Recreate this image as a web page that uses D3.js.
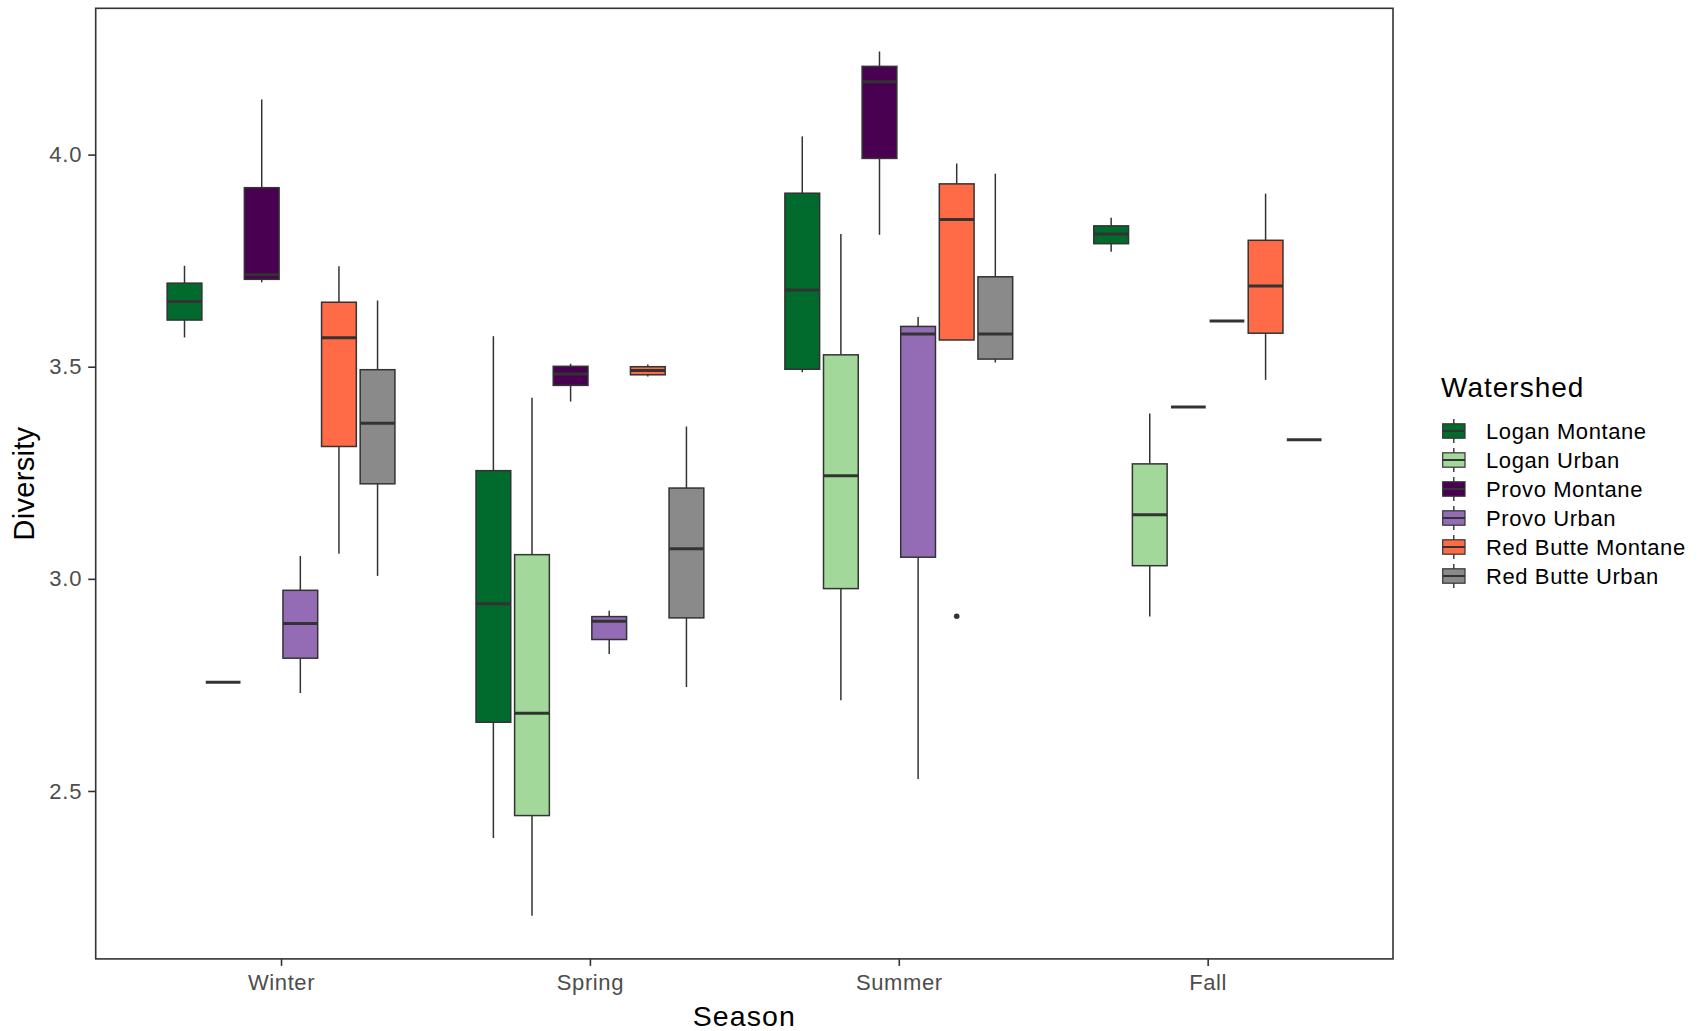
<!DOCTYPE html>
<html>
<head>
<meta charset="utf-8">
<script src="https://cdn.jsdelivr.net/npm/d3@7"></script>
<style>
  html, body { margin: 0; padding: 0; background: #ffffff; }
  svg { display: block; font-family: "Liberation Sans", Arial, sans-serif; }
</style>
</head>
<body>
<svg id="chart" width="1704" height="1031"></svg>
<script>
// Seasons on the x axis, watersheds as dodged boxes inside each season
const seasons = ["Winter", "Spring", "Summer", "Fall"];
const watersheds = ["Logan Montane", "Logan Urban", "Provo Montane", "Provo Urban", "Red Butte Montane", "Red Butte Urban"];
const fills = ["#006b2c", "#a2d99b", "#4a0050", "#936cb5", "#ff6a47", "#8a8a8a"];
const yTicks = [2.5, 3.0, 3.5, 4.0];

// Box statistics per watershed, one entry per season: [lower whisker, Q1, median, Q3, upper whisker]
const loganMontane = [
  [3.569, 3.610, 3.654, 3.697, 3.738],
  [2.389, 2.662, 2.941, 3.255, 3.572],
  [3.487, 3.494, 3.681, 3.909, 4.043],
  [3.771, 3.790, 3.813, 3.832, 3.851]
];
const loganUrban = [
  [2.756, 2.756, 2.756, 2.756, 2.756],
  [2.206, 2.442, 2.683, 3.057, 3.427],
  [2.714, 2.977, 3.243, 3.528, 3.813],
  [2.911, 3.031, 3.151, 3.271, 3.390]
];
const provoMontane = [
  [3.699, 3.706, 3.717, 3.922, 4.130],
  [3.418, 3.456, 3.483, 3.501, 3.507],
  [3.811, 3.991, 4.172, 4.208, 4.243],
  [3.405, 3.405, 3.405, 3.405, 3.405]
];
const provoUrban = [
  [2.731, 2.813, 2.895, 2.973, 3.054],
  [2.823, 2.857, 2.900, 2.911, 2.925],
  [2.528, 3.051, 3.577, 3.595, 3.617],
  [3.608, 3.608, 3.608, 3.608, 3.608]
];
const redButteMontane = [
  [3.059, 3.312, 3.568, 3.652, 3.737],
  [3.477, 3.481, 3.491, 3.500, 3.505],
  [3.563, 3.563, 3.847, 3.931, 3.979],
  [3.469, 3.579, 3.690, 3.798, 3.908]
];
const redButteUrban = [
  [3.007, 3.224, 3.367, 3.493, 3.656],
  [2.745, 2.908, 3.071, 3.214, 3.359],
  [3.510, 3.518, 3.577, 3.712, 3.955],
  [3.328, 3.328, 3.328, 3.328, 3.328]
];
// Points beyond the whiskers: [season, watershed, value]
const outliers = [["Summer", "Red Butte Montane", 2.912]];

const statsByWatershed = [loganMontane, loganUrban, provoMontane, provoUrban, redButteMontane, redButteUrban];

const boxes = [];
watersheds.forEach((w, wi) => {
  seasons.forEach((s, si) => {
    const [lo, q1, med, q3, hi] = statsByWatershed[wi][si];
    boxes.push({ season: s, watershed: w, lo, q1, med, q3, hi });
  });
});

const svg = d3.select("#chart");
const panel = { left: 95.7, top: 8.3, right: 1393, bottom: 958.9 };
const ink = "#333333";
const font = "'Liberation Sans', Arial, sans-serif";

// y domain: data range expanded by 5% on each side
const allVals = boxes.flatMap(b => [b.lo, b.hi]).concat(outliers.map(o => o[2]));
const vMin = d3.min(allVals), vMax = d3.max(allVals);
const pad = (vMax - vMin) * 0.05;
const y = d3.scaleLinear().domain([vMin - pad, vMax + pad]).range([panel.bottom, panel.top]);

const x = d3.scalePoint().domain(seasons).range([panel.left, panel.right]).padding(0.6);
const step = x.step();
const xInner = d3.scaleBand().domain(watersheds)
  .range([-0.375 * step, 0.375 * step]).paddingInner(0.1).paddingOuter(0.05);
const color = d3.scaleOrdinal().domain(watersheds).range(fills);

const plot = svg.append("g");

// boxes: whiskers, box, median
const g = plot.selectAll("g.box").data(boxes).join("g").attr("class", "box")
  .attr("transform", d => `translate(${x(d.season) + xInner(d.watershed)},0)`);
const bw = xInner.bandwidth();

g.append("line").attr("x1", bw / 2).attr("x2", bw / 2)
  .attr("y1", d => y(d.hi)).attr("y2", d => y(d.q3))
  .attr("stroke", ink).attr("stroke-width", 1.5);
g.append("line").attr("x1", bw / 2).attr("x2", bw / 2)
  .attr("y1", d => y(d.q1)).attr("y2", d => y(d.lo))
  .attr("stroke", ink).attr("stroke-width", 1.5);
g.append("rect").attr("x", 0).attr("width", bw)
  .attr("y", d => y(d.q3)).attr("height", d => Math.max(0, y(d.q1) - y(d.q3)))
  .attr("fill", d => color(d.watershed))
  .attr("stroke", ink).attr("stroke-width", 1.5);
g.append("line").attr("x1", 0).attr("x2", bw)
  .attr("y1", d => y(d.med)).attr("y2", d => y(d.med))
  .attr("stroke", ink).attr("stroke-width", 3);

plot.selectAll("circle.out").data(outliers).join("circle").attr("class", "out")
  .attr("cx", d => x(d[0]) + xInner(d[1]) + bw / 2)
  .attr("cy", d => y(d[2]))
  .attr("r", 2.8).attr("fill", ink);

// panel border
svg.append("rect")
  .attr("x", panel.left).attr("y", panel.top)
  .attr("width", panel.right - panel.left).attr("height", panel.bottom - panel.top)
  .attr("fill", "none").attr("stroke", ink).attr("stroke-width", 1.6);

// axes
const yAxis = svg.append("g").attr("transform", `translate(${panel.left},0)`)
  .call(d3.axisLeft(y).tickValues(yTicks).tickFormat(d3.format(".1f")).tickSize(7.5).tickPadding(6));
const xAxis = svg.append("g").attr("transform", `translate(0,${panel.bottom})`)
  .call(d3.axisBottom(x).tickSize(7).tickPadding(6));
[yAxis, xAxis].forEach(a => {
  a.select(".domain").remove();
  a.selectAll(".tick line").attr("stroke", ink).attr("stroke-width", 1.6);
  a.selectAll(".tick text").attr("fill", "#4d4d4d")
    .style("font-size", "22px").style("font-family", font);
});
yAxis.selectAll(".tick text").style("letter-spacing", "0.8px").attr("x", -13.5);
xAxis.selectAll(".tick text").style("letter-spacing", "0.6px").attr("y", 31).attr("dy", 0);

// axis titles
svg.append("text").attr("x", (panel.left + panel.right) / 2).attr("y", 1026)
  .attr("text-anchor", "middle").style("font-size", "28.5px").style("letter-spacing", "1.1px")
  .attr("fill", "#000").text("Season");
svg.append("text").attr("transform", `translate(34,${(panel.top + panel.bottom) / 2}) rotate(-90)`)
  .attr("text-anchor", "middle").style("font-size", "29px").style("letter-spacing", "0.3px")
  .attr("fill", "#000").text("Diversity");

// legend
const legend = svg.append("g").attr("transform", "translate(1441,0)");
legend.append("text").attr("x", 0).attr("y", 396.7).style("font-size", "28px")
  .style("letter-spacing", "1px").attr("fill", "#000").text("Watershed");
const items = legend.selectAll("g.item").data(watersheds).join("g").attr("class", "item")
  .attr("transform", (d, i) => `translate(0,${431 + i * 29})`);
items.append("line").attr("x1", 12.8).attr("x2", 12.8).attr("y1", -12).attr("y2", 12)
  .attr("stroke", ink).attr("stroke-width", 1.4);
items.append("rect").attr("x", 1.7).attr("y", -7.2).attr("width", 22.3).attr("height", 14.4)
  .attr("fill", d => color(d)).attr("stroke", ink).attr("stroke-width", 1.2);
items.append("line").attr("x1", 1.7).attr("x2", 24).attr("y1", 0).attr("y2", 0)
  .attr("stroke", ink).attr("stroke-width", 2);
items.append("text").attr("x", 45).attr("y", 8)
  .style("font-size", "22px").style("letter-spacing", "0.6px").attr("fill", "#000").text(d => d);
</script>
</body>
</html>
